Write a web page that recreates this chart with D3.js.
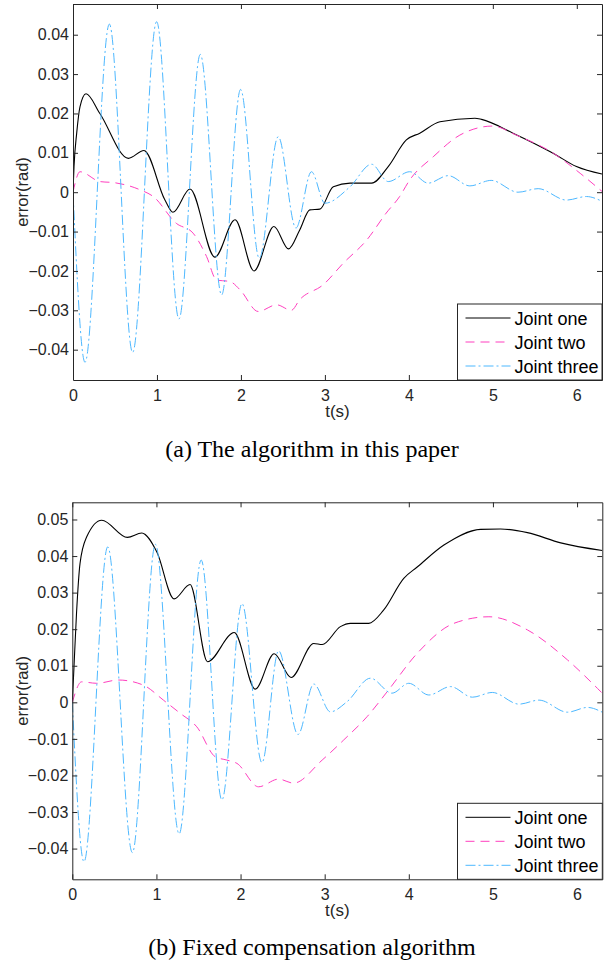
<!DOCTYPE html>
<html>
<head>
<meta charset="utf-8">
<script src="https://cdn.jsdelivr.net/npm/d3@7"></script>
<style>
  body { margin: 0; background: #fff; }
  svg { display: block; }
  .tick text { font-family: "Liberation Sans", Arial, sans-serif; font-size: 16px; fill: #262626; }
</style>
</head>
<body>
<div id="chart"></div>
<script>
// time ticks and error ticks
var tTicks = [0, 1, 2, 3, 4, 5, 6];
var errTicksA = [-0.04, -0.03, -0.02, -0.01, 0, 0.01, 0.02, 0.03, 0.04];
var errTicksB = [-0.04, -0.03, -0.02, -0.01, 0, 0.01, 0.02, 0.03, 0.04, 0.05];
var seriesNames = ["Joint one", "Joint two", "Joint three"];

// (a) the algorithm in this paper  -- [t, error]
var oneA = [[0,0],[0.012,0.0065],[0.044,0.015],[0.083,0.0217],[0.155,0.025],[0.32,0.02],[0.66,0.0086],[0.845,0.0106],
  [1.095,-0.002],[1.19,-0.0051],[1.393,0.0008],[1.69,-0.0165],[1.93,-0.007],[2.155,-0.020],[2.393,-0.0087],[2.567,-0.0144],
  [2.70,-0.0096],[2.82,-0.0045],[2.94,-0.0043],[3.1,0.0014],[3.3,0.0023],[3.556,0.0023],[3.754,0.0065],[3.97,0.0133],
  [4.13,0.015],[4.37,0.0179],[4.786,0.0188],[4.866,0.0185],[5.24,0.015],[5.718,0.0099],[5.996,0.0065],[6.3,0.0046]];
var twoA = [[0,0],[0.083,0.0052],[0.32,0.0027],[0.5,0.0024],[0.8,0.0006],[0.956,-0.0011],[1.23,-0.0079],[1.43,-0.0104],
  [1.59,-0.0163],[1.71,-0.0223],[1.87,-0.0227],[1.99,-0.0248],[2.206,-0.0303],[2.425,-0.0286],[2.6,-0.030],[2.70,-0.0273],
  [2.98,-0.0235],[3.22,-0.018],[3.5,-0.0121],[3.73,-0.0053],[3.89,-0.0011],[4.01,0.0031],[4.29,0.009],[4.607,0.0145],
  [5.0,0.0168],[5.28,0.0145],[5.72,0.0099],[6.04,0.0048],[6.3,0.0002]];
var threeA = [[0,0],[0.143,-0.0432],[0.433,0.0427],[0.71,-0.0407],[0.996,0.0433],[1.262,-0.0322],[1.516,0.035],[1.77,-0.0261],
  [1.996,0.0261],[2.218,-0.0168],[2.444,0.0141],[2.655,-0.0091],[2.84,0.0052],[3.0,-0.0028],[3.3,0.0014],[3.556,0.0071],
  [3.754,0.0027],[4.01,0.0052],[4.23,0.0023],[4.468,0.0042],[4.726,0.0016],[4.98,0.003],[5.3,0.0],[5.54,0.0009],
  [5.877,-0.002],[6.115,-0.0011],[6.3,-0.0023]];

// (b) fixed compensation algorithm
var oneB = [[0,0],[0.02,0.0097],[0.05,0.0243],[0.092,0.038],[0.17,0.0452],[0.35,0.0498],[0.655,0.0451],[0.826,0.0463],
  [1.005,0.0411],[1.21,0.0283],[1.40,0.0322],[1.607,0.0111],[1.925,0.0191],[2.175,0.0036],[2.40,0.0133],[2.60,0.0068],
  [2.87,0.0161],[2.97,0.0158],[3.187,0.0207],[3.306,0.0216],[3.524,0.0216],[3.70,0.0252],[3.94,0.0339],[4.1,0.037],
  [4.417,0.043],[4.853,0.0473],[5.09,0.0474],[5.41,0.0464],[5.806,0.0436],[6.3,0.0415]];
var twoB = [[0,0],[0.11,0.0056],[0.29,0.0052],[0.548,0.0061],[0.845,0.0047],[1.083,0.0006],[1.282,-0.003],[1.48,-0.0067],
  [1.70,-0.0149],[1.838,-0.0158],[1.957,-0.0167],[2.214,-0.0231],[2.452,-0.021],[2.63,-0.0221],[2.97,-0.0158],
  [3.226,-0.0103],[3.505,-0.0039],[3.743,0.0029],[4.1,0.0134],[4.536,0.0216],[4.952,0.0234],[5.41,0.0198],
  [5.886,0.0116],[6.243,0.0038],[6.3,0.0025]];
var threeB = [[0,0],[0.139,-0.0436],[0.421,0.0425],[0.714,-0.0411],[0.988,0.0432],[1.27,-0.036],[1.532,0.0389],[1.778,-0.0267],
  [2.017,0.027],[2.254,-0.0165],[2.452,0.0141],[2.683,-0.0088],[2.87,0.005],[3.068,-0.0026],[3.267,0.0002],[3.544,0.0066],
  [3.80,0.0025],[4.0,0.0052],[4.238,0.002],[4.496,0.0043],[4.755,0.0014],[4.993,0.0027],[5.31,-0.0005],[5.548,0.0006],
  [5.886,-0.0027],[6.124,-0.0014],[6.3,-0.0027]];

var colors = ["#000000", "#ff3fbf", "#4db8ff"];
var dashes = [null, "9,6", "10,3,2,3"];
var axisColor = "#262626";

var svg = d3.select("#chart").append("svg")
  .attr("width", 609)
  .attr("height", 965);

function panel(opts) {
  var x = d3.scaleLinear().domain([0, 6.3]).range([opts.left, opts.right]);
  var y = d3.scaleLinear().domain(opts.yDomain).range([opts.bottom, opts.top]);
  var g = svg.append("g");

  // clip so lines stay inside box
  var clipId = "clip" + opts.id;
  g.append("clipPath").attr("id", clipId)
    .append("rect")
      .attr("x", opts.left).attr("y", opts.top)
      .attr("width", opts.right - opts.left).attr("height", opts.bottom - opts.top);

  var line = d3.line()
    .x(d => x(d[0]))
    .y(d => y(d[1]))
    .curve(d3.curveMonotoneX);

  var lines = g.append("g").attr("clip-path", "url(#" + clipId + ")");
  opts.series.forEach(function (s, i) {
    lines.append("path")
      .datum(s)
      .attr("fill", "none")
      .attr("stroke", colors[i])
      .attr("stroke-width", i === 0 ? 1.1 : 1)
      .attr("stroke-dasharray", dashes[i])
      .attr("d", line);
  });

  // axes, ticks pointing inward
  g.append("g")
    .attr("transform", "translate(0," + opts.bottom + ")")
    .call(d3.axisBottom(x).tickValues(tTicks).tickFormat(d3.format("d")).tickSize(-5).tickPadding(opts.xPad).tickSizeOuter(0));
  g.append("g")
    .attr("transform", "translate(0," + opts.top + ")")
    .call(d3.axisTop(x).tickValues(tTicks).tickFormat("").tickSize(-5).tickSizeOuter(0));
  var yAxis = g.append("g")
    .attr("transform", "translate(" + opts.left + ",0)")
    .call(d3.axisLeft(y).tickValues(opts.yTicks).tickFormat(d => d === 0 ? "0" : d3.format(".2f")(d)).tickSize(-5).tickPadding(4).tickSizeOuter(0));
  g.append("g")
    .attr("transform", "translate(" + opts.right + ",0)")
    .call(d3.axisRight(y).tickValues(opts.yTicks).tickFormat("").tickSize(-5).tickSizeOuter(0));
  g.selectAll(".domain, .tick line").attr("stroke", axisColor);
  g.selectAll(".tick text").attr("fill", axisColor);
  yAxis.selectAll(".tick text").attr("text-anchor", "end");

  // axis labels
  g.append("text")
    .attr("x", (opts.left + opts.right) / 2)
    .attr("y", opts.bottom + 37)
    .attr("text-anchor", "middle")
    .style("font-family", "Liberation Sans, Arial, sans-serif")
    .style("font-size", "17px")
    .attr("fill", axisColor)
    .text("t(s)");
  g.append("text")
    .attr("transform", "translate(28," + (opts.top + opts.bottom) / 2 + ") rotate(-90)")
    .attr("text-anchor", "middle")
    .style("font-family", "Liberation Sans, Arial, sans-serif")
    .style("font-size", "16.5px")
    .attr("fill", axisColor)
    .text("error(rad)");

  // legend in lower right corner
  var lg = g.append("g");
  var lx = 457.5, ly = opts.bottom - 76;
  lg.append("rect")
    .attr("x", lx).attr("y", ly)
    .attr("width", opts.right - lx).attr("height", 76)
    .attr("fill", "#fff")
    .attr("stroke", axisColor)
    .attr("stroke-width", 1);
  seriesNames.forEach(function (name, i) {
    var ry = ly + 14 + i * 24;
    lg.append("line")
      .attr("x1", lx + 8).attr("x2", lx + 53)
      .attr("y1", ry).attr("y2", ry)
      .attr("stroke", colors[i])
      .attr("stroke-width", 1)
      .attr("stroke-dasharray", dashes[i]);
    lg.append("text")
      .attr("x", lx + 57)
      .attr("y", ry + 6.5)
      .style("font-family", "Liberation Sans, Arial, sans-serif")
      .style("font-size", "18px")
      .attr("fill", "#000")
      .text(name);
  });

  // caption
  svg.append("text")
    .attr("x", 312)
    .attr("y", opts.captionY)
    .attr("text-anchor", "middle")
    .style("font-family", "Liberation Serif, Times New Roman, serif")
    .style("font-size", "24px")
    .attr("fill", "#000")
    .text(opts.caption);
}

panel({
  id: "a", left: 73, right: 602, top: 4, bottom: 380,
  yDomain: [-0.0477, 0.0478], yTicks: errTicksA, xPad: 10,
  series: [oneA, twoA, threeA],
  caption: "(a) The algorithm in this paper", captionY: 457
});

panel({
  id: "b", left: 72.3, right: 602.3, top: 502.3, bottom: 879.3,
  yDomain: [-0.0484, 0.0547], yTicks: errTicksB, xPad: 9.5,
  series: [oneB, twoB, threeB],
  caption: "(b) Fixed compensation algorithm", captionY: 955
});
</script>
</body>
</html>
